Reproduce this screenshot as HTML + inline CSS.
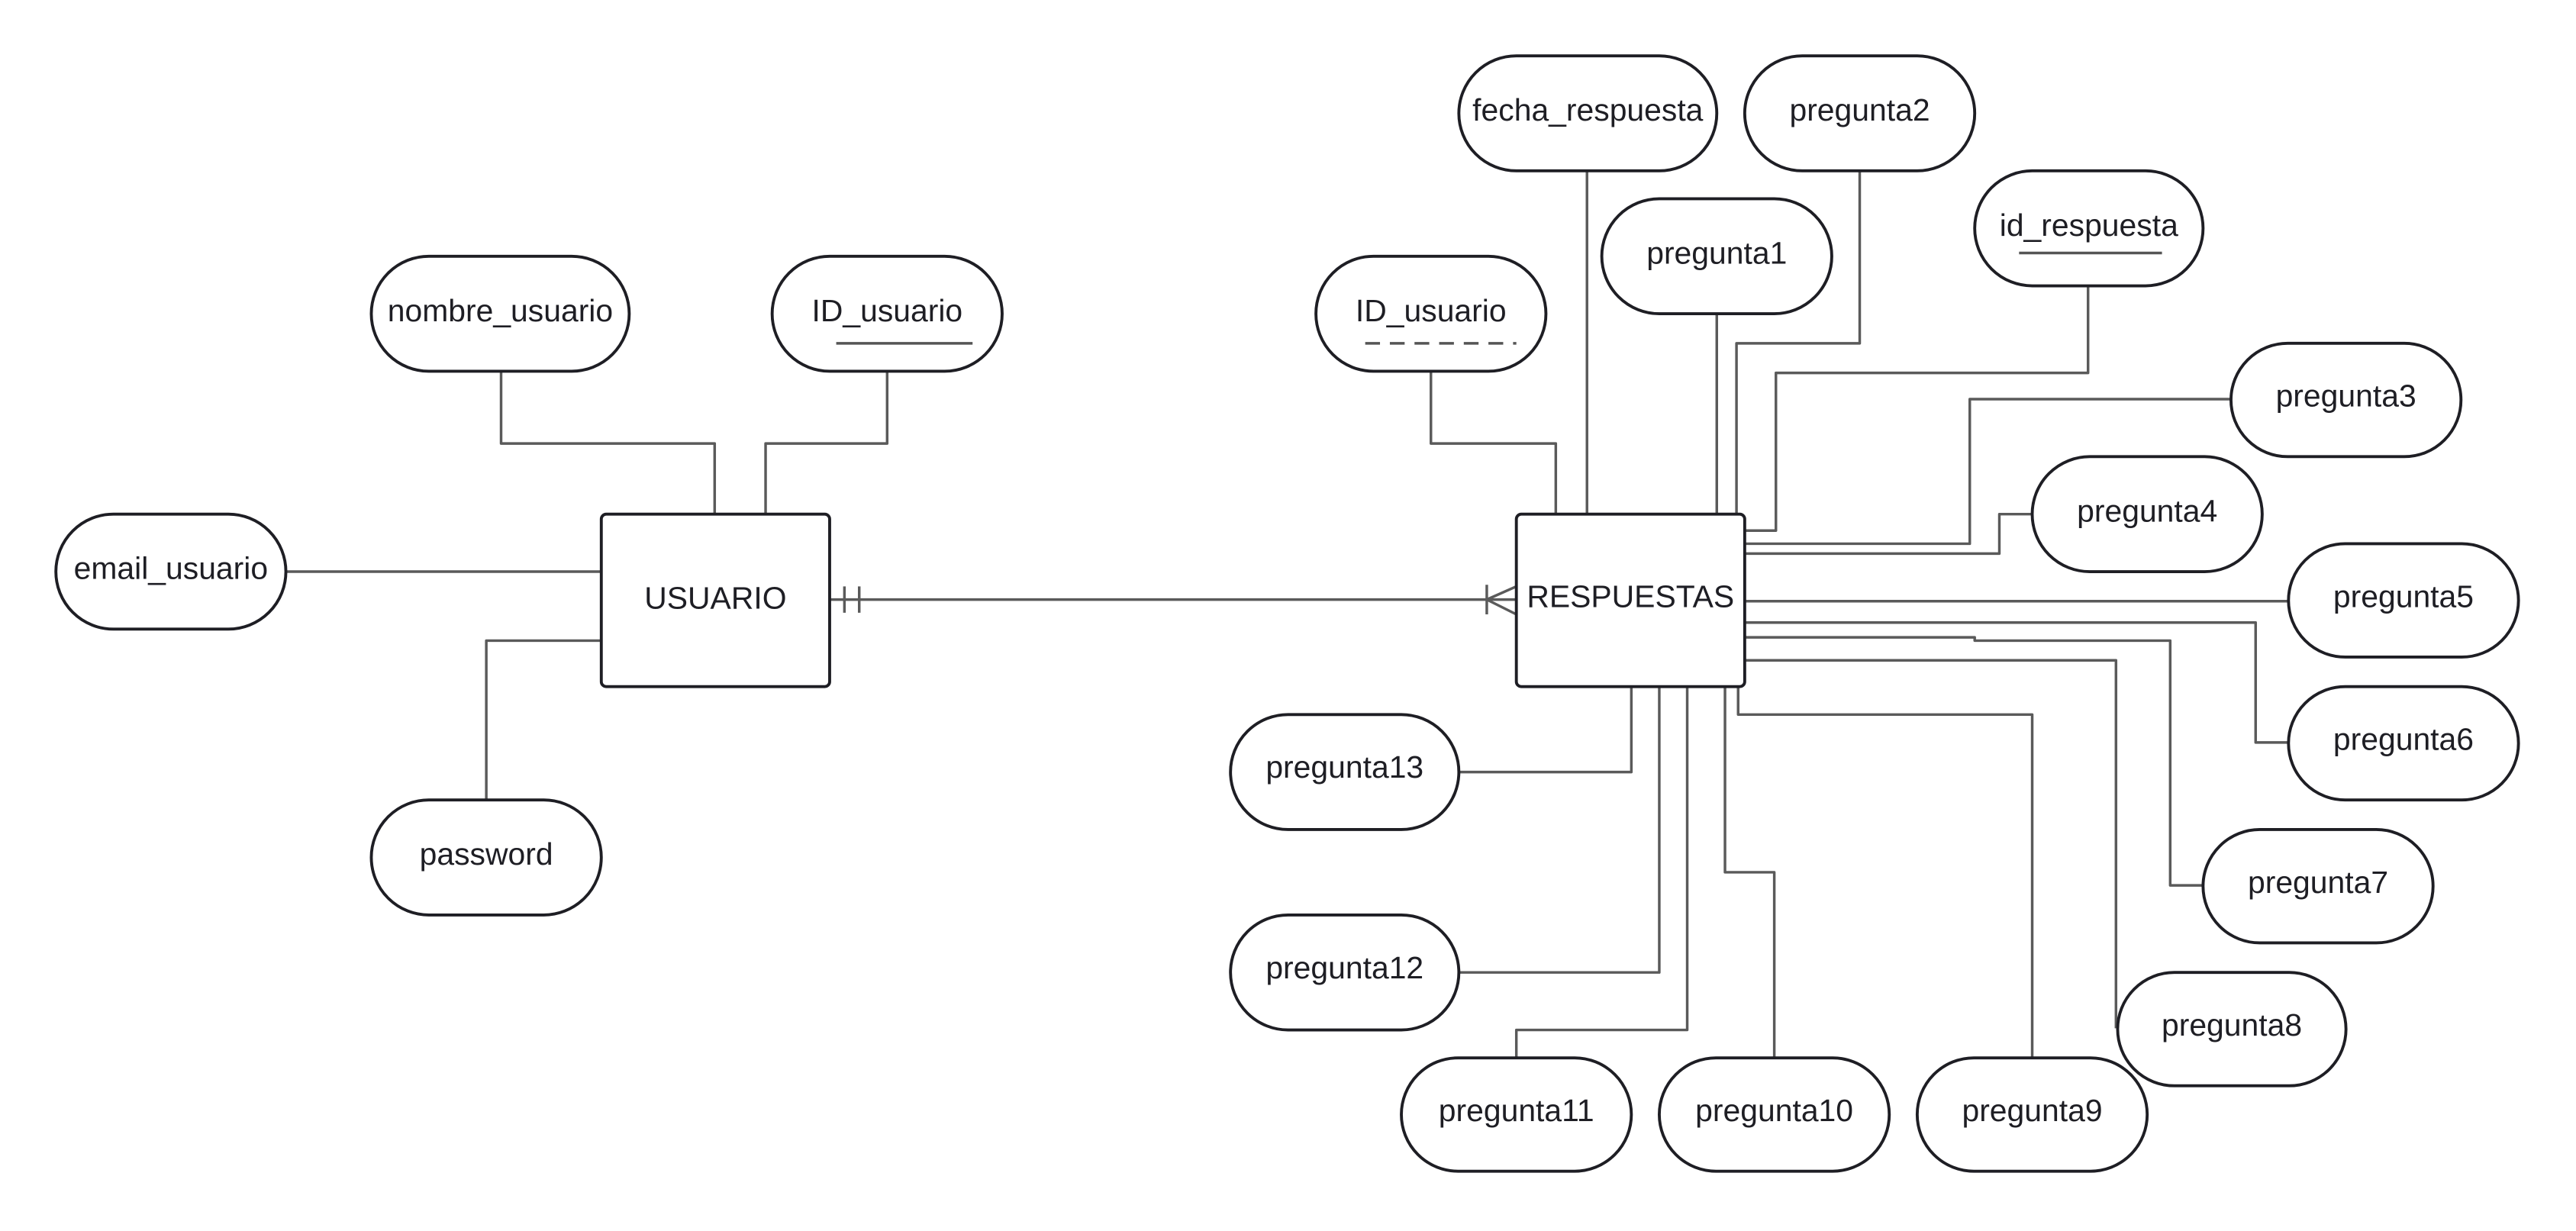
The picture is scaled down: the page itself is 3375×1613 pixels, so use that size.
<!DOCTYPE html>
<html><head><meta charset="utf-8"><style>
html,body{margin:0;padding:0;background:#fff;}
svg{display:block;}
text{font-family:"Liberation Sans",sans-serif;font-size:19px;fill:#1e1e24;text-anchor:middle;dominant-baseline:central;}
.e{fill:#fff;stroke:#1e1e24;stroke-width:1.8;}
.l{fill:none;stroke:#5a5a5a;stroke-width:1.6;stroke-linejoin:round;}
</style></head><body>
<svg width="3375" height="1613" viewBox="0 0 1568 749.4" xmlns="http://www.w3.org/2000/svg">
<g class="l">
<path d="M305 226V270H435V313"/>
<path d="M540 226V270H466V313"/>
<path d="M174 348H366"/>
<path d="M366 390H296V487"/>
<path d="M505 365H923"/>
<path d="M514 357V373M523 357V373"/>
<path d="M923 357L905 365L923 374M905 356V374"/>
<path d="M966 104V313"/>
<path d="M1132 104V209H1057V313"/>
<path d="M1045 191V313"/>
<path d="M1271 174V227H1081V323H1062"/>
<path d="M871 226V270H947V313"/>
<path d="M1358 243H1199V331H1062"/>
<path d="M1237 313H1217V337H1062"/>
<path d="M1062 366H1393"/>
<path d="M1062 379H1373V452H1393"/>
<path d="M1062 388H1202V390H1321V539H1341"/>
<path d="M1062 402H1288V626"/>
<path d="M1058 418V435H1237V644"/>
<path d="M1050 418V531H1080V644"/>
<path d="M1027 418V627H923V644"/>
<path d="M1010 418V592H888"/>
<path d="M993 418V470H888"/>
</g>
<rect class="e" x="366" y="313" width="139" height="105" rx="3"/>
<text x="435.5" y="364">USUARIO</text>
<rect class="e" x="923" y="313" width="139" height="105" rx="3"/>
<text x="992.5" y="363">RESPUESTAS</text>
<g>
<rect class="e" x="226" y="156" width="157" height="70" rx="35"/><text x="304.5" y="189">nombre_usuario</text>
<rect class="e" x="470" y="156" width="140" height="70" rx="35"/><text x="540" y="189">ID_usuario</text>
<path d="M509 209H592" stroke="#555" stroke-width="1.6"/>
<rect class="e" x="34" y="313" width="140" height="70" rx="35"/><text x="104" y="346">email_usuario</text>
<rect class="e" x="226" y="487" width="140" height="70" rx="35"/><text x="296" y="520">password</text>
<rect class="e" x="888" y="34" width="157" height="70" rx="35"/><text x="966.5" y="67">fecha_respuesta</text>
<rect class="e" x="1062" y="34" width="140" height="70" rx="35"/><text x="1132" y="67">pregunta2</text>
<rect class="e" x="975" y="121" width="140" height="70" rx="35"/><text x="1045" y="154">pregunta1</text>
<rect class="e" x="1202" y="104" width="139" height="70" rx="35"/><text x="1271.5" y="137">id_respuesta</text>
<path d="M1229 154H1316" stroke="#555" stroke-width="1.6"/>
<rect class="e" x="801" y="156" width="140" height="70" rx="35"/><text x="871" y="189">ID_usuario</text>
<path d="M831 209H923" stroke="#555" stroke-width="1.6" stroke-dasharray="9,6"/>
<rect class="e" x="1358" y="209" width="140" height="69" rx="34.5"/><text x="1428" y="241">pregunta3</text>
<rect class="e" x="1237" y="278" width="140" height="70" rx="35"/><text x="1307" y="311">pregunta4</text>
<rect class="e" x="1393" y="331" width="140" height="69" rx="34.5"/><text x="1463" y="363">pregunta5</text>
<rect class="e" x="1393" y="418" width="140" height="69" rx="34.5"/><text x="1463" y="450">pregunta6</text>
<rect class="e" x="1341" y="505" width="140" height="69" rx="34.5"/><text x="1411" y="537">pregunta7</text>
<rect class="e" x="1289" y="592" width="139" height="69" rx="34.5"/><text x="1358.5" y="624">pregunta8</text>
<rect class="e" x="1167" y="644" width="140" height="69" rx="34.5"/><text x="1237" y="676">pregunta9</text>
<rect class="e" x="1010" y="644" width="140" height="69" rx="34.5"/><text x="1080" y="676">pregunta10</text>
<rect class="e" x="853" y="644" width="140" height="69" rx="34.5"/><text x="923" y="676">pregunta11</text>
<rect class="e" x="749" y="557" width="139" height="70" rx="35"/><text x="818.5" y="589">pregunta12</text>
<rect class="e" x="749" y="435" width="139" height="70" rx="35"/><text x="818.5" y="467">pregunta13</text>
</g>
</svg>
</body></html>
